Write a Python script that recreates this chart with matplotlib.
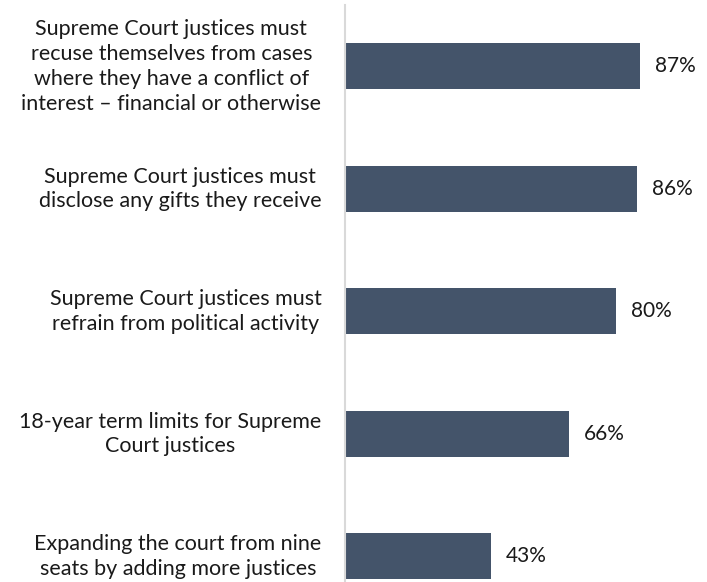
import matplotlib
matplotlib.use("Agg")
import matplotlib.pyplot as plt
from matplotlib.transforms import ScaledTranslation

plt.rcParams['font.family'] = ['Lato', 'DejaVu Sans']

statements = [
    "Supreme Court justices must\nrecuse themselves from cases\nwhere they have a conflict of\ninterest \u2013 financial or otherwise",
    "Supreme Court justices must\ndisclose any gifts they receive",
    "Supreme Court justices must\nrefrain from political activity",
    "18-year term limits for Supreme\nCourt justices",
    "Expanding the court from nine\nseats by adding more justices",
]
support = [87, 86, 80, 66, 43]

BAR_COLOR = "#44546A"
TEXT_COLOR = "#1a1a1a"

fig = plt.figure(figsize=(7.07, 5.82), dpi=100)
ax = fig.add_axes([345 / 707, 0, (684 - 345) / 707, 1 - 5 / 582])

pos = list(range(len(statements)))
bars = ax.barh(pos, support, height=0.375, color=BAR_COLOR)

for rect, val in zip(bars, support):
    ax.annotate(f"{val}%", (rect.get_width(), rect.get_y() + rect.get_height() / 2),
                xytext=(11, 0), textcoords="offset points",
                ha="left", va="center", fontsize=15, color=TEXT_COLOR)

ax.set_xlim(0, 100)
ax.set_ylim(4.21, -0.5)
ax.set_yticks(pos)
ax.set_yticklabels(statements, fontsize=15.5, color=TEXT_COLOR, ma="center",
                   linespacing=1.3)
ax.tick_params(axis="y", length=0, pad=17)
ax.set_xticks([])

# nudge the category labels up a little so the last one clears the bottom edge
shift = ScaledTranslation(0, 3 / 72, fig.dpi_scale_trans)
for lbl in ax.get_yticklabels():
    lbl.set_transform(lbl.get_transform() + shift)

for side in ("top", "right", "bottom"):
    ax.spines[side].set_visible(False)
ax.spines["left"].set_color("#D9D9D9")
ax.spines["left"].set_linewidth(1.5)

fig.savefig("out.png", dpi=100)
